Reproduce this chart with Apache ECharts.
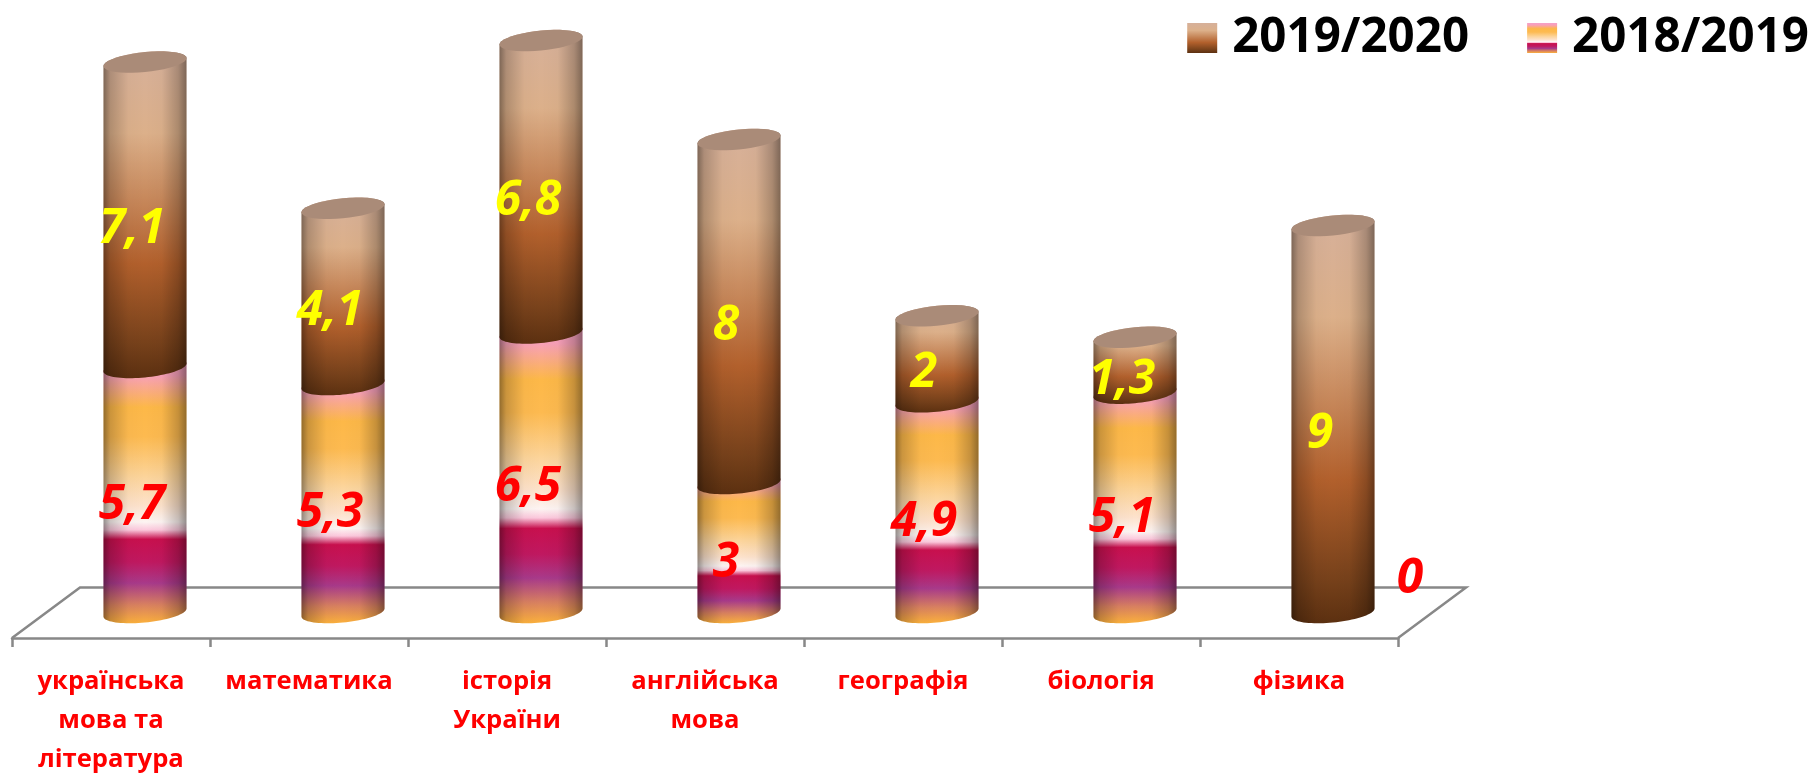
<!DOCTYPE html>
<html><head><meta charset="utf-8">
<style>html,body{margin:0;padding:0;background:#fff}#c{width:1816px;height:773px}</style>
<script src="https://cdn.jsdelivr.net/npm/echarts@6/dist/echarts.min.js"></script>
</head><body><div id="c"></div>
<script>
const categories = ['українська\nмова та\nлітература','математика','історія\nУкраїни','англійська\nмова','географія','біологія','фізика'];
const values2018 = [5.7,5.3,6.5,3,4.9,5.1,0];
const values2019 = [7.1,4.1,6.8,8,2,1.3,9];
const seriesNames = ['2019/2020','2018/2019'];

const FONT = '"Open Sans"';
const DEPTH_X = 34, RX = 41.5, RY = 10, SKEW = 4;
const grad = (stops, horiz) => new echarts.graphic.LinearGradient(0,0,horiz?1:0,horiz?0:1,
  stops.map(s => ({offset:s[0],color:s[1]})));

const brownStops = [[0,'#d6b09a'],[0.25,'#dcb08a'],[0.65,'#b2602c'],[0.9,'#75401a'],[1,'#5c3010']];
const sunsetStops = [[0,'#f5a0c8'],[0.07,'#f8a0b8'],[0.19,'#fdb848'],[0.3,'#fdba50'],[0.45,'#fcd49a'],[0.56,'#fde2cc'],[0.62,'#fdf4f2'],[0.65,'#fcc8dc'],[0.685,'#c8104e'],[0.77,'#c01860'],[0.85,'#a83a8a'],[0.93,'#d88060'],[1,'#fbb03c']];
const shade = [[0,'rgba(0,0,0,0.42)'],[0.08,'rgba(0,0,0,0.2)'],[0.3,'rgba(0,0,0,0.02)'],[0.5,'rgba(0,0,0,0)'],[0.7,'rgba(0,0,0,0.02)'],[0.9,'rgba(0,0,0,0.22)'],[1,'rgba(0,0,0,0.42)']];

function arc(cx, cy, from, to){
  const pts = [], n = 40;
  for(let i=0;i<=n;i++){
    const t = from + (to-from)*i/n;
    pts.push([cx+RX*Math.cos(t), cy+RY*Math.sin(t)-SKEW*Math.cos(t)]);
  }
  return pts;
}

function cylinder(stops, withCap){
  return function(params, api){
    const i = api.value(0), lo = api.value(1), hi = api.value(2);
    const base = api.coord([i, lo]), top = api.coord([i, hi]);
    const cx = base[0] + DEPTH_X, children = [];
    if(hi - lo > 0){
      const outline = arc(cx, base[1], 0, Math.PI).concat(arc(cx, top[1], Math.PI, 2*Math.PI));
      children.push({type:'polygon',shape:{points:outline},style:{fill:grad(stops)}});
      children.push({type:'polygon',shape:{points:outline},style:{fill:grad(shade,true)}});
      if(withCap){
        children.push({type:'polygon',shape:{points:arc(cx, top[1], 0, 2*Math.PI)},style:{fill:'#aa8b78'}});
      }
    }
    return {type:'group',children};
  };
}

function labelItem(values, color){
  return function(params, api){
    const i = api.value(0), lo = api.value(1), hi = api.value(2), val = values[params.dataIndex];
    const p = api.coord([i,(lo+hi)/2]);
    const isZero = val === 0;
    return {type:'text',z2:100,x:p[0]+DEPTH_X+(isZero?77:-13),y:p[1]+(isZero?-33:15),
      style:{text:String(val).replace('.',','),fill:color,font:'italic bold 48px '+FONT,align:'center',verticalAlign:'middle'}};
  };
}

const data18 = values2018.map((v,i)=>[i,0,v]);
const data19 = values2019.map((v,i)=>[i,values2018[i],values2018[i]+v]);

const chart = echarts.init(document.getElementById('c'));
chart.setOption({
  animation:false,
  backgroundColor:'#fff',
  tooltip:{show:false},
  grid:{left:12,width:1386,top:10.5,bottom:160.5,containLabel:false,outerBoundsMode:'none'},
  legend:{
    right:7,top:14,padding:0,selectedMode:false,itemWidth:30,itemHeight:30,itemGap:58,icon:'rect',
    textStyle:{fontFamily:FONT,fontWeight:'bold',fontSize:47.5,color:'#000',padding:[0,0,0,10]},
    data:[
      {name:seriesNames[0],itemStyle:{color:grad(brownStops)}},
      {name:seriesNames[1],itemStyle:{color:grad(sunsetStops)}}
    ]
  },
  xAxis:{
    type:'category',data:categories,offset:25.5,
    axisLine:{show:true,onZero:false,lineStyle:{color:'#888888',width:2.5}},
    axisTick:{show:true,length:9,lineStyle:{color:'#888888',width:2.5}},
    axisLabel:{color:'#ff0000',fontFamily:FONT,fontWeight:'bold',fontSize:25.6,lineHeight:39,margin:24,interval:0}
  },
  yAxis:{type:'value',min:0,max:14,show:false},
  series:[
    {type:'custom',name:'floor',z:1,silent:true,coordinateSystem:'cartesian2d',data:[[0,0,0]],
     renderItem:(params,api)=>{
       const g = params.coordSys, fy = g.y+g.height+25.5, by = fy-50.5, dx = 68;
       const st = {stroke:'#888888',lineWidth:2.5,fill:null};
       return {type:'polyline',shape:{points:[[g.x,fy],[g.x+dx,by],[g.x+g.width+dx,by],[g.x+g.width,fy]]},style:st};
     }},
    {type:'custom',name:seriesNames[1],z:2,silent:true,data:data18,renderItem:cylinder(sunsetStops,false),clip:false},
    {type:'custom',name:seriesNames[0],z:2,silent:true,data:data19,renderItem:cylinder(brownStops,true),clip:false},
    {type:'custom',name:'labels18',z:3,silent:true,data:data18,renderItem:labelItem(values2018,'#ff0000'),clip:false},
    {type:'custom',name:'labels19',z:3,silent:true,data:data19,renderItem:labelItem(values2019,'#ffff00'),clip:false}
  ]
});
</script></body></html>
